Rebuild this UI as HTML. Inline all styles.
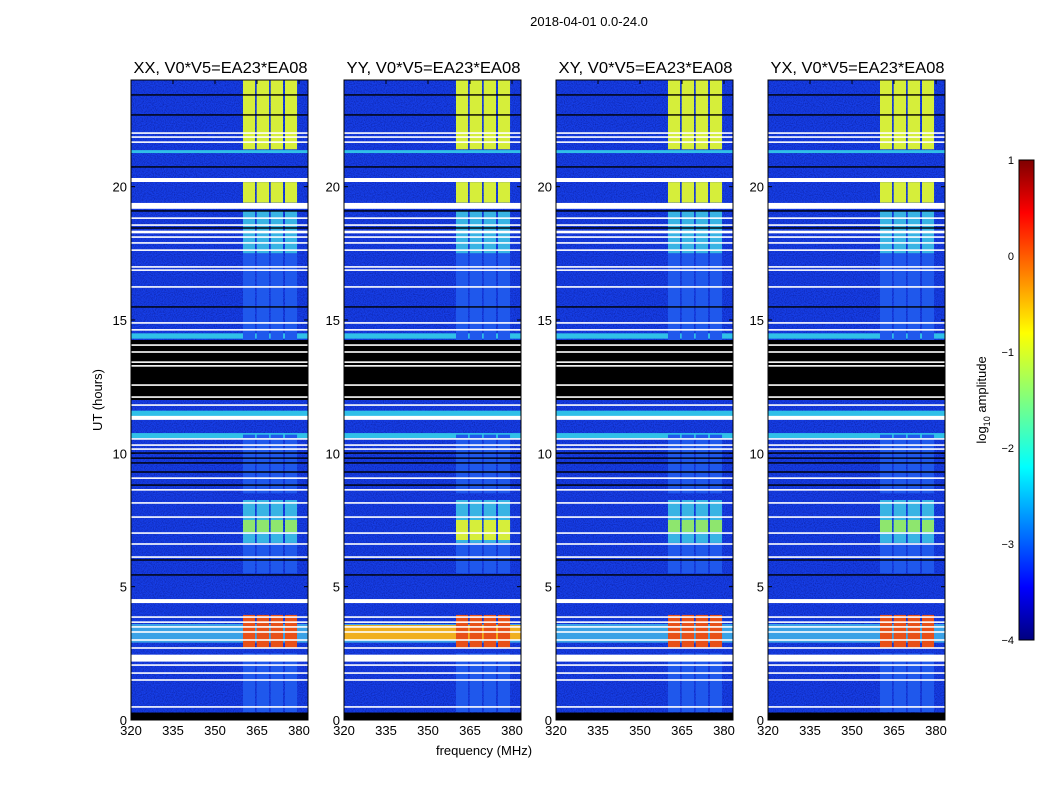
<!DOCTYPE html>
<html><head><meta charset="utf-8">
<style>
body{margin:0;background:#fff;}
svg{display:block;font-family:"Liberation Sans",sans-serif;}
</style></head>
<body>
<svg id="fig" width="1050" height="800" xmlns="http://www.w3.org/2000/svg">
<defs>
<linearGradient id="jet" x1="0" y1="1" x2="0" y2="0">
<stop offset="0" stop-color="#00007f"/><stop offset="0.11" stop-color="#0000ff"/>
<stop offset="0.36" stop-color="#00ffff"/><stop offset="0.5" stop-color="#7fff7f"/>
<stop offset="0.64" stop-color="#ffff00"/><stop offset="0.89" stop-color="#ff0000"/>
<stop offset="1" stop-color="#7f0000"/>
</linearGradient>
<filter id="grain" x="0" y="0" width="100%" height="100%">
<feTurbulence type="fractalNoise" baseFrequency="0.9" numOctaves="1" seed="3"/>
<feColorMatrix values="0 0 0 0 0  0 0 0 0 0  0 0 0 0 0.1  0 0 0 0.9 -0.35"/>
</filter>
</defs>
<text x="589" y="26" font-size="13" text-anchor="middle">2018-04-01 0.0-24.0</text>
<text x="484" y="755" font-size="13" text-anchor="middle">frequency (MHz)</text>
<text transform="translate(102,400) rotate(-90)" font-size="13" text-anchor="middle">UT (hours)</text>
<g id="panels"></g>
<g id="cbar"></g>
</svg>
<script>
// ---- data ----
const panelTitles = ["XX, V0*V5=EA23*EA08","YY, V0*V5=EA23*EA08","XY, V0*V5=EA23*EA08","YX, V0*V5=EA23*EA08"];
const xTicks = [320,335,350,365,380];
const yTicks = [0,5,10,15,20];
const rfiFreqStart = [360.0,364.9,369.9,375.0];
const rfiFreqEnd   = [364.3,369.3,374.3,379.3];
const rfiHourStart = [21.4,19.4,17.5,13.9,8.5,6.64,7.05,5.5,2.7,0.3];
const rfiHourEnd   = [24.0,20.17,19.1,17.5,10.7,8.25,7.5,6.6,3.94,2.5];
const rfiLevel     = ["Y","Y","C2","C1","C1","C2","G","C1","R","C1"];
const bandHourStart = [21.26,14.3,11.4,10.57,2.9];
const bandHourEnd   = [21.37,14.5,11.6,10.76,3.6];
const bandLevel     = ["C","C","C","C","B"];
const flagHourStart = [12.0,0.0];
const flagHourEnd   = [14.25,0.28];
const whiteHours = [22.01,21.86,21.67,20.25,19.28,18.82,18.56,18.30,18.11,17.89,17.62,16.99,16.87,16.24,14.89,14.63,14.06,13.80,13.42,13.28,12.56,12.11,11.81,11.33,10.54,10.31,10.16,9.07,8.63,8.14,7.61,7.01,6.60,6.11,4.46,3.86,3.67,3.49,3.30,3.00,2.70,2.32,2.06,1.76,1.50,0.49];
const whiteThick = [0.06,0.06,0.06,0.15,0.22,0.06,0.06,0.1,0.06,0.06,0.06,0.06,0.06,0.06,0.06,0.06,0.06,0.06,0.06,0.06,0.06,0.06,0.06,0.15,0.06,0.06,0.06,0.06,0.06,0.06,0.06,0.06,0.06,0.06,0.15,0.06,0.06,0.06,0.06,0.06,0.06,0.26,0.06,0.06,0.06,0.06];
const blackHours = [23.44,22.69,20.74,19.09,18.45,15.49,10.01,9.82,9.64,9.30,8.81,6.0,5.44];
// YY panel overrides
const yyBandHourStart = [3.0];
const yyBandHourEnd = [3.56];
const yyBandLevel = ["O"];
const yyRfiHourStart = [6.75];
const yyRfiHourEnd = [7.5];
const yyRfiLevel = ["Y"];
const cbarTicks = [1,0,-1,-2,-3,-4];
const cbarLabels = ["1","0","\u22121","\u22122","\u22123","\u22124"];

const colors = {Y:"#d6ee3a",C1:"#1f58ec",C2:"#38b4e4",G:"#8ee66e",R:"#e85018",C:"#30c0e8",B:"#3aa2e6",O:"#f0b020"};
const panelX = [131,344,556,768];
const PW = 177, PT = 80, PB = 720;
const NS = "http://www.w3.org/2000/svg";
function fx(f, i){ return panelX[i] + (f-320)*2.8; }
function fy(h){ return PB - h*(PB-PT)/24; }
function mk(tag, attrs, parent){ const e=document.createElementNS(NS,tag); for(const k in attrs) e.setAttribute(k,attrs[k]); parent.appendChild(e); return e; }

const root = document.getElementById('panels');
for(let i=0;i<4;i++){
  const g = mk('g',{},root);
  
  
  const x0=panelX[i];
  const bg = mk('rect',{x:x0,y:PT,width:PW,height:PB-PT,fill:'#163ee6'},g);
  
  
  mk('rect',{x:x0,y:PT,width:PW,height:PB-PT,fill:'#000',filter:'url(#grain)'},g);
  const fullW = Math.min(PW, fx(383.2,i)-x0);
  function band(h0,h1,lev){
    const r = mk('rect',{x:x0,y:fy(h1),width:fullW,height:fy(h0)-fy(h1),fill:colors[lev]},g);
    
    
  }
  function rfi(h0,h1,lev){
    for(let k=0;k<rfiFreqStart.length;k++){
      const r = mk('rect',{x:fx(rfiFreqStart[k],i),y:fy(h1),width:fx(rfiFreqEnd[k],i)-fx(rfiFreqStart[k],i),height:fy(h0)-fy(h1),fill:colors[lev]},g);
      
      
    }
  }
  for(let k=0;k<bandHourStart.length;k++) band(bandHourStart[k],bandHourEnd[k],bandLevel[k]);
  if(i===1) for(let k=0;k<yyBandHourStart.length;k++) band(yyBandHourStart[k],yyBandHourEnd[k],yyBandLevel[k]);
  for(let k=0;k<rfiHourStart.length;k++) rfi(rfiHourStart[k],rfiHourEnd[k],rfiLevel[k]);
  if(i===1) for(let k=0;k<yyRfiHourStart.length;k++) rfi(yyRfiHourStart[k],yyRfiHourEnd[k],yyRfiLevel[k]);
  for(let k=0;k<flagHourStart.length;k++){
    const r = mk('rect',{x:x0,y:fy(flagHourEnd[k]),width:PW,height:fy(flagHourStart[k])-fy(flagHourEnd[k]),fill:'#000'},g);
    
    
  }
  for(let k=0;k<blackHours.length;k++){
    const r = mk('rect',{x:x0,y:fy(blackHours[k])-0.7,width:PW,height:1.4,fill:'#000'},g);
    
    
  }
  for(let k=0;k<whiteHours.length;k++){
    const t = whiteThick[k]*(PB-PT)/24;
    const r = mk('rect',{x:x0,y:fy(whiteHours[k])-t/2,width:PW,height:t,fill:'#fff'},g);
    
    
  }
  const fr = mk('rect',{x:x0,y:PT,width:PW,height:PB-PT,fill:'none',stroke:'#000','stroke-width':1},g);
  
  
  const t = mk('text',{x:x0+PW/2+1,y:PT-7,'font-size':16,'text-anchor':'middle',textLength:174,lengthAdjust:'spacingAndGlyphs'},g);
  t.textContent = panelTitles[i];
  
  
  xTicks.forEach(v=>{
    const x=fx(v,i);
    mk('line',{x1:x,x2:x,y1:PB,y2:PB-4,stroke:'#000'},g);
    mk('line',{x1:x,x2:x,y1:PT,y2:PT+4,stroke:'#000'},g);
    const l = mk('text',{x:x,y:PB+15,'font-size':13,'text-anchor':'middle'},g);
    l.textContent=v;
    
    
  });
  yTicks.forEach(v=>{
    const y=fy(v);
    mk('line',{x1:x0,x2:x0+4,y1:y,y2:y,stroke:'#000'},g);
    mk('line',{x1:x0+PW,x2:x0+PW-4,y1:y,y2:y,stroke:'#000'},g);
    const l = mk('text',{x:x0-4,y:y+5,'font-size':13,'text-anchor':'end'},g);
    l.textContent=v;
    
    
  });
}
// colorbar
const cb = document.getElementById('cbar');
const cbTop=160, cbBot=640, cbX=1019, cbW=15;
function cy(v){ return cbBot - (v+4)/5*(cbBot-cbTop); }
mk('rect',{x:cbX,y:cbTop,width:cbW,height:cbBot-cbTop,fill:'url(#jet)',stroke:'#000','stroke-width':1},cb);
cbarTicks.forEach((v,k)=>{
  const y=cy(v);
  const l = mk('text',{x:cbX-5,y:y+4,'font-size':11,'text-anchor':'end'},cb);
  l.textContent=cbarLabels[k];
  
  
});
const cl = mk('text',{transform:'translate(986,400) rotate(-90)','font-size':13,'text-anchor':'middle'},cb);
cl.innerHTML='log<tspan font-size="9" dy="4">10</tspan><tspan dy="-4"> amplitude</tspan>';


</script>
</body></html>
